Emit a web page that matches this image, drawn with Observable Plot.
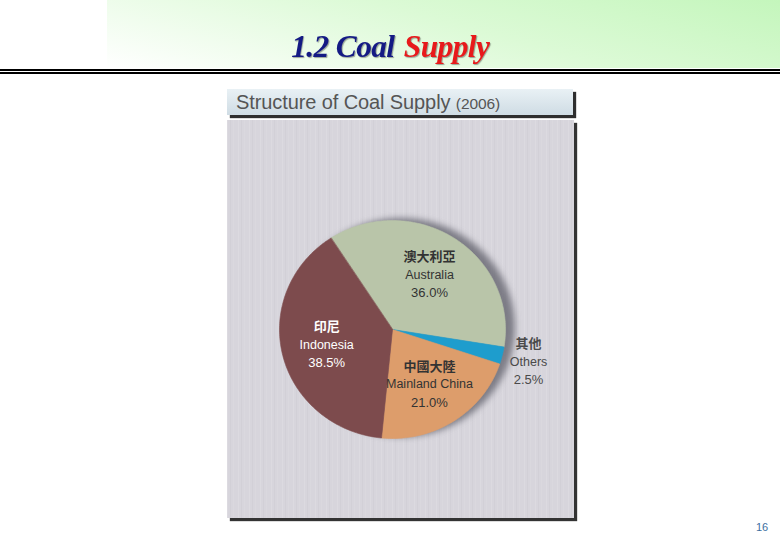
<!DOCTYPE html>
<html lang="zh-Hant"><head><meta charset="utf-8">
<script src="https://cdn.jsdelivr.net/npm/d3@7"></script>
<script src="https://cdn.jsdelivr.net/npm/@observablehq/plot@0.6"></script>
<style>
body{margin:0;width:780px;height:540px;position:relative;background:#fff;overflow:hidden;font-family:"Liberation Sans",Arial,sans-serif}
#hdr{position:absolute;left:107px;top:0;width:673px;height:68px;background:linear-gradient(195deg,#c4f6bc 0%,#dcfad6 45%,#ffffff 100%)}
#ttl{position:absolute;left:0;top:28px;width:780px;text-align:center;font-family:"Liberation Serif","Times New Roman",serif;font-weight:bold;font-style:italic;font-size:32px;line-height:36px;text-shadow:1px 1px 1px rgba(0,0,0,.35);letter-spacing:-0.6px}
#ttl span{display:inline-block;transform:scaleX(0.98)}
#ttl .a{color:#141a84}#ttl .b{color:#e8191b}
#l1{position:absolute;left:0;top:69px;width:780px;height:1.5px;background:#000}
#l2{position:absolute;left:0;top:71.5px;width:780px;height:2.5px;background:#000}
#bar{position:absolute;left:227px;top:89px;width:346px;height:26px;background:linear-gradient(#e9f1f5,#cfdce4);box-shadow:3px 3px 1px #2e2e2e;color:#555;font-size:20px;line-height:26px;padding-left:9px;box-sizing:border-box;white-space:nowrap;letter-spacing:-0.1px}
#bar small{font-size:15.5px}
#panel{position:absolute;left:227px;top:120px;width:347px;height:398px;background-color:#d7d5dc;background-image:repeating-linear-gradient(90deg,rgba(255,255,255,.12) 0 1px,transparent 1px 3px,rgba(0,0,0,.025) 3px 4px,transparent 4px 6px,rgba(255,255,255,.07) 6px 7px,transparent 7px 11px);box-shadow:3px 3px 1px #333}
#chart{position:absolute;left:226px;top:120px}
#pg{position:absolute;left:756px;top:521px;font-size:11px;color:#3d6ea0}
</style></head>
<body>
<div id="hdr"></div>
<div id="ttl"><span class="a">1.2 Coal&nbsp;</span><span class="b">Supply</span></div>
<div id="l1"></div><div id="l2"></div>
<div id="bar">Structure of Coal Supply <small>(2006)</small></div>
<div id="panel"></div>
<div id="chart"></div>
<div id="pg">16</div>
<script>
// Data
const namesZh = ["澳大利亞", "其他", "中國大陸", "印尼"];
const namesEn = ["Australia", "Others", "Mainland China", "Indonesia"];
const shares = [36.0, 2.5, 21.0, 38.5];
const colors = ["#b9c5a9", "#1e9dcd", "#dd9d6b", "#7d4b4d"];

// Layout
const W = 350, H = 400, cx = 166, cy = 209, rx = 113, ry = 109;
const startDeg = -33;

const total = d3.sum(shares);
let acc = startDeg * Math.PI / 180;
const slices = shares.map((v, i) => {
  const a0 = acc, a1 = acc + v / total * 2 * Math.PI;
  acc = a1;
  return {zh: namesZh[i], en: namesEn[i], v, a0, a1, mid: (a0 + a1) / 2};
});

const pts = [];
for (const s of slices) {
  pts.push({name: s.en, x: 0, y: 0});
  const n = Math.max(2, Math.ceil((s.a1 - s.a0) / (Math.PI / 180)));
  for (let k = 0; k <= n; k++) {
    const a = s.a0 + (s.a1 - s.a0) * k / n;
    pts.push({name: s.en, x: Math.sin(a), y: Math.cos(a)});
  }
}

const labels = slices.map(s => {
  const r = s.v < 5 ? 1.24 : 0.6;
  return {...s, x: r * Math.sin(s.mid), y: r * Math.cos(s.mid), pct: s.v.toFixed(1) + "%", white: s.en === "Indonesia"};
});

const font = "'Liberation Sans', Arial, 'Noto Sans CJK TC', sans-serif";
function lbl(filter, fill) {
  return [
    Plot.text(labels, {x: "x", y: "y", text: "zh", dy: -18, filter, fill, fontSize: 13, fontWeight: "bold", fontFamily: "'Noto Sans CJK TC', sans-serif"}),
    Plot.text(labels, {x: "x", y: "y", text: "en", dy: 0, filter, fill, fontSize: 12.5, fontFamily: font}),
    Plot.text(labels, {x: "x", y: "y", text: "pct", dy: 18, filter, fill, fontSize: 13, fontFamily: font})
  ];
}

const chart = Plot.plot({
  width: W, height: H,
  margin: 0,
  style: {background: "transparent", overflow: "visible"},
  x: {axis: null, domain: [-cx / rx, (W - cx) / rx], range: [0, W]},
  y: {axis: null, domain: [-(H - cy) / ry, cy / ry], range: [H, 0]},
  color: {domain: namesEn, range: colors},
  marks: [
    Plot.line(pts, {x: "x", y: "y", z: "name", fill: "name", stroke: "name", strokeWidth: 0.6, curve: "linear-closed"}),
    ...lbl(d => d.white, "#ffffff"),
    ...lbl(d => !d.white && d.v >= 5, "#333333"),
    ...lbl(d => d.v < 5, "#4a4a4a")
  ]
});
const g = chart.querySelector('g[aria-label="line"]');
if (g) g.style.filter = "drop-shadow(9px -2px 3px rgba(95,95,105,0.75))";
document.getElementById("chart").appendChild(chart);
</script>
</body></html>
